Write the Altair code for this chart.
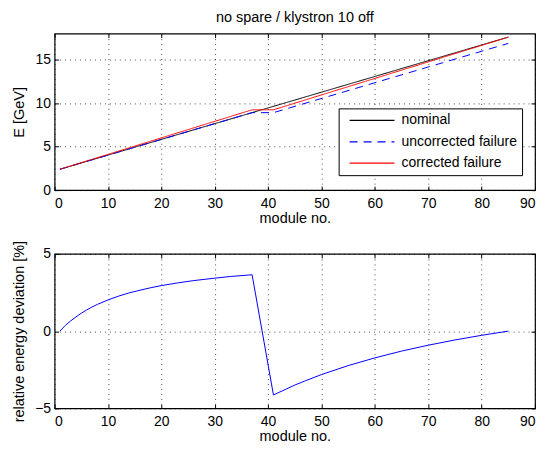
import altair as alt
import pandas as pd

# ---- data ----
series_names = ["nominal", "uncorrected failure", "corrected failure"]
series_colors = ["#000000", "#0000ff", "#ff0000"]
series_dashes = [[1, 0], [8, 6], [1, 0]]

nominal_modules = [1, 85]
nominal_energy = [2.4, 17.6]

uncorrected_modules = [1, 37, 41, 85]
uncorrected_energy = [2.4, 8.91, 8.91, 16.88]

corrected_modules = [1, 37, 41, 85]
corrected_energy = [2.4, 9.24, 9.24, 17.6]

dev_modules = [1, 2, 3, 4, 5, 6, 7, 8, 10, 12, 14, 16, 18, 20, 23, 26, 30, 33, 37,
               41, 43, 45, 47, 50, 55, 60, 65, 70, 75, 80, 85]
dev_values = [0.0, 0.37, 0.66, 0.92, 1.16, 1.37, 1.56, 1.73, 2.02, 2.27, 2.48, 2.65,
              2.81, 2.95, 3.12, 3.27, 3.43, 3.54, 3.65,
              -4.13, -3.81, -3.49, -3.21, -2.81, -2.23, -1.73, -1.29, -0.91, -0.57,
              -0.27, 0.0]

x_ticks = list(range(0, 91, 10))
top_y_ticks = [0, 5, 10, 15]
bottom_y_ticks = [-5, 0, 5]

# ---- tables ----
rows = []
for k, (mods, vals) in enumerate([(nominal_modules, nominal_energy),
                                  (uncorrected_modules, uncorrected_energy),
                                  (corrected_modules, corrected_energy)]):
    for m, v in zip(mods, vals):
        rows.append({"module": m, "energy": v, "series": series_names[k], "k": k})
df_top = pd.DataFrame(rows)
df_bot = pd.DataFrame({"module": dev_modules, "dev": dev_values})

FONT = "Liberation Sans"
W, H1, H2 = 482, 157, 155
TICK = 4

x_scale = alt.Scale(domain=[0, 90], nice=False)
top_y_scale = alt.Scale(domain=[0, 18], nice=False)
bot_y_scale = alt.Scale(domain=[-5, 5], nice=False)


def x_axis():
    return alt.Axis(values=x_ticks, title="module no.", labelFontSize=14,
                    titleFontSize=14.5, labelPadding=6, titlePadding=1,
                    ticks=True, tickSize=TICK, offset=-TICK)


def y_axis(vals, title, h):
    return alt.Axis(values=vals, title=title, labelFontSize=14, titleFontSize=14.5,
                    labelPadding=4, titleX=-35 - TICK, titleY=h / 2, titleAngle=-90,
                    titleAlign="center", titleBaseline="middle",
                    ticks=True, tickSize=TICK, offset=-TICK)


def mirror_axis(vals, orient):
    return alt.Axis(values=vals, orient=orient, labels=False, title=None, grid=False,
                    ticks=True, tickSize=TICK, offset=-TICK)


legend_kw = dict(title=None, orient="none", legendX=285, legendY=75,
                 fillColor="white", strokeColor="black", padding=5,
                 symbolType="M-0.2,0H8.8", symbolSize=100, symbolStrokeWidth=1.2,
                 labelFontSize=14, labelFont=FONT, labelOffset=44, rowPadding=7.5,
                 labelColor="black")

top_lines = alt.Chart(df_top).mark_line(strokeWidth=1, clip=True).encode(
    x=alt.X("module:Q", scale=x_scale, axis=x_axis()),
    y=alt.Y("energy:Q", scale=top_y_scale, axis=y_axis(top_y_ticks, "E [GeV]", H1)),
    color=alt.Color("series:N", sort=series_names,
                    scale=alt.Scale(domain=series_names, range=series_colors),
                    legend=alt.Legend(**legend_kw)),
    strokeDash=alt.StrokeDash("series:N", sort=series_names,
                              scale=alt.Scale(domain=series_names, range=series_dashes),
                              legend=alt.Legend(**legend_kw)),
    order="k:Q",
)
top_mirror = alt.Chart(df_top).mark_point(opacity=0).encode(
    x=alt.X("module:Q", scale=x_scale, axis=mirror_axis(x_ticks, "top")),
    y=alt.Y("energy:Q", scale=top_y_scale, axis=mirror_axis(top_y_ticks, "right")),
)
top = alt.layer(top_lines, top_mirror).resolve_axis(
    x="independent", y="independent"
).properties(width=W, height=H1,
             title=alt.Title("no spare / klystron 10 off", fontSize=14.5,
                             fontWeight="normal", font=FONT, offset=8, color="black"))

bot_line = alt.Chart(df_bot).mark_line(strokeWidth=1, color="#0000ff", clip=True).encode(
    x=alt.X("module:Q", scale=x_scale, axis=x_axis()),
    y=alt.Y("dev:Q", scale=bot_y_scale,
            axis=y_axis(bottom_y_ticks, "relative energy deviation [%]", H2)),
)
bot_mirror = alt.Chart(df_bot).mark_point(opacity=0).encode(
    x=alt.X("module:Q", scale=x_scale, axis=mirror_axis(x_ticks, "top")),
    y=alt.Y("dev:Q", scale=bot_y_scale, axis=mirror_axis(bottom_y_ticks, "right")),
)
bottom = alt.layer(bot_line, bot_mirror).resolve_axis(
    x="independent", y="independent"
).properties(width=W, height=H2)

chart = alt.vconcat(top, bottom, spacing=13).properties(
    padding={"left": 2.75, "top": 0, "right": 0, "bottom": 0}
).configure_view(stroke="black", strokeWidth=1.2).configure_axis(
    labelFont=FONT, titleFont=FONT, labelColor="black", titleColor="black",
    titleFontWeight="normal", domain=False, tickColor="black", tickWidth=1,
    gridColor="black", gridDash=[1, 4], gridOpacity=0.7, gridWidth=1,
)

chart.save("out.html", embed_options={"renderer": "svg", "actions": False})
